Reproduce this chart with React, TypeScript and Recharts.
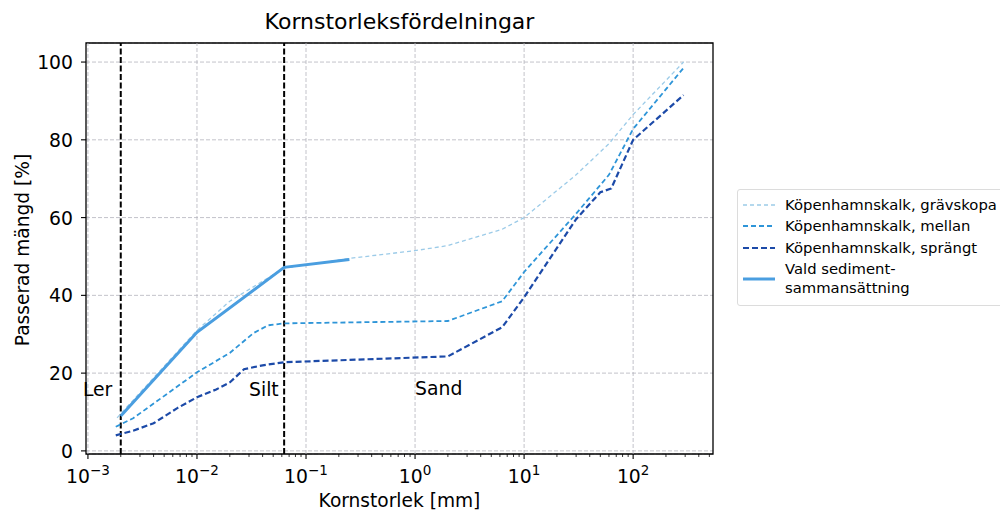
import React from 'react';
import {
  LineChart,
  Line,
  XAxis,
  YAxis,
  CartesianGrid,
  ReferenceLine,
  ReferenceArea,
  ReferenceDot,
  Legend,
} from 'recharts';

// Grain size distributions: x = grain size [mm], y = passing [%]
const gravskopa = [
  { x: 0.00185, y: 8.5 },
  { x: 0.01, y: 31 },
  { x: 0.02, y: 38.5 },
  { x: 0.063, y: 47 },
  { x: 0.25, y: 49.5 },
  { x: 1, y: 51.5 },
  { x: 2, y: 52.8 },
  { x: 6.3, y: 57 },
  { x: 10, y: 60 },
  { x: 30, y: 71 },
  { x: 60, y: 79 },
  { x: 100, y: 86.5 },
  { x: 290, y: 100 },
];

const mellan = [
  { x: 0.0018, y: 6.2 },
  { x: 0.0026, y: 8.4 },
  { x: 0.01, y: 20.2 },
  { x: 0.02, y: 25.2 },
  { x: 0.033, y: 30.3 },
  { x: 0.045, y: 32.3 },
  { x: 0.063, y: 32.8 },
  { x: 2, y: 33.4 },
  { x: 6.3, y: 38.5 },
  { x: 10, y: 46 },
  { x: 30, y: 61 },
  { x: 60, y: 71 },
  { x: 100, y: 82.8 },
  { x: 290, y: 98.5 },
];

const sprangt = [
  { x: 0.0018, y: 4 },
  { x: 0.0026, y: 5.2 },
  { x: 0.004, y: 7.1 },
  { x: 0.0066, y: 11 },
  { x: 0.01, y: 13.8 },
  { x: 0.015, y: 15.8 },
  { x: 0.02, y: 17.6 },
  { x: 0.027, y: 21 },
  { x: 0.04, y: 22 },
  { x: 0.063, y: 22.8 },
  { x: 2, y: 24.3 },
  { x: 6.3, y: 31.8 },
  { x: 10, y: 39.5 },
  { x: 30, y: 59.6 },
  { x: 50, y: 66.5 },
  { x: 63, y: 67.5 },
  { x: 100, y: 80 },
  { x: 290, y: 91.5 },
];

const vald = [
  { x: 0.002, y: 9 },
  { x: 0.01, y: 30.5 },
  { x: 0.063, y: 47.2 },
  { x: 0.25, y: 49.2 },
];

// Class boundaries (clay/silt, silt/sand) and their labels
const boundaries = [0.002, 0.063];
const classLabels = [
  { text: 'Ler', x: 0.001, y: 14, dx: -5 },
  { text: 'Silt', x: 0.03, y: 14, dx: 0 },
  { text: 'Sand', x: 1, y: 14.5, dx: 0 },
];

const xMajor = [1e-3, 1e-2, 1e-1, 1, 10, 100];
const xMinorFactors = [2, 3, 4, 5, 6, 7, 8, 9];
const xTicks: number[] = [];
xMajor.forEach((m) => {
  xTicks.push(m);
  xMinorFactors.forEach((f) => {
    const v = m * f;
    if (v < 540) xTicks.push(v);
  });
});
const yTicks = [0, 20, 40, 60, 80, 100];

const X_DOMAIN: [number, number] = [0.00096, 540];
const Y_DOMAIN: [number, number] = [-0.8, 104.9];

const legendItems = [
  { label: ['Köpenhamnskalk, grävskopa'], color: '#9ccbe8', width: 1.3, dash: '4 3' },
  { label: ['Köpenhamnskalk, mellan'], color: '#2e95d8', width: 1.8, dash: '5 3' },
  { label: ['Köpenhamnskalk, sprängt'], color: '#1c4aa8', width: 2.2, dash: '6 3' },
  { label: ['Vald sediment-', 'sammansättning'], color: '#4a9ee0', width: 3, dash: '' },
];

const FONT = '"DejaVu Sans", Verdana, sans-serif';
const TICK_FONT = 18.8;

const isMajor = (v: number) => {
  const l = Math.log10(v);
  return Math.abs(l - Math.round(l)) < 1e-6;
};

const XTick = (props: any) => {
  const { x, y, payload } = props;
  const v = payload.value as number;
  const major = isMajor(v);
  const exp = Math.round(Math.log10(v));
  const expText = exp < 0 ? `\u2212${-exp}` : `${exp}`;
  return (
    <g>
      <line
        x1={x}
        x2={x}
        y1={y}
        y2={y + (major ? 5 : 3)}
        stroke="#000"
        strokeWidth={major ? 1.1 : 0.8}
      />
      {major && (
        <text x={x} y={y + 29} textAnchor="middle" fontSize={TICK_FONT} fill="#000" fontFamily={FONT}>
          <tspan>10</tspan>
          <tspan dy={-8.5} fontSize={13.5}>
            {expText}
          </tspan>
        </text>
      )}
    </g>
  );
};

const YTick = (props: any) => {
  const { x, y, payload } = props;
  return (
    <g>
      <line x1={x - 5} x2={x} y1={y} y2={y} stroke="#000" strokeWidth={1.1} />
      <text x={x - 13} y={y + 7} textAnchor="end" fontSize={TICK_FONT} fill="#000" fontFamily={FONT}>
        {payload.value}
      </text>
    </g>
  );
};

const LegendBox = () => (
  <div
    style={{
      border: '1px solid #dcdcdc',
      borderRadius: 3,
      background: '#fff',
      padding: '4px 0 6px 0',
      fontFamily: FONT,
      fontSize: 14.8,
      color: '#000',
      width: 290,
      boxSizing: 'border-box',
    }}
  >
    {legendItems.map((it, i) => (
      <div key={i} style={{ display: 'flex', alignItems: 'center', height: it.label.length * 18.5 + 3 }}>
        <svg width={47} height={10} style={{ flex: 'none' }}>
          <line
            x1={5}
            x2={37}
            y1={5}
            y2={5}
            stroke={it.color}
            strokeWidth={it.width}
            strokeDasharray={it.dash || undefined}
          />
        </svg>
        <div style={{ lineHeight: '18.5px', whiteSpace: 'nowrap' }}>
          {it.label.map((l, j) => (
            <div key={j}>{l}</div>
          ))}
        </div>
      </div>
    ))}
  </div>
);

export default function App() {
  return (
    <div style={{ position: 'absolute', left: 0, top: 0, width: 1000, height: 510, background: '#fff' }}>
      <LineChart
        width={1000}
        height={510}
        margin={{ top: 43, right: 287, bottom: 0, left: 0 }}
        style={{ fontFamily: FONT }}
      >
        <CartesianGrid
          vertical={false}
          stroke="#b4b4bc"
          strokeDasharray="4 2"
          strokeWidth={0.8}
        />
        {xMajor.map((v) => (
          <ReferenceLine
            key={`g${v}`}
            x={v}
            stroke="#b4b4bc"
            strokeDasharray="4 2"
            strokeWidth={0.8}
          />
        ))}
        <XAxis
          type="number"
          dataKey="x"
          scale="log"
          domain={X_DOMAIN}
          allowDataOverflow
          ticks={xTicks}
          interval={0}
          tick={<XTick />}
          tickLine={false}
          tickSize={0}
          tickMargin={0}
          axisLine={false}
          height={56}
        />
        <YAxis
          type="number"
          dataKey="y"
          domain={Y_DOMAIN}
          allowDataOverflow
          ticks={yTicks}
          interval={0}
          tick={<YTick />}
          tickLine={false}
          tickSize={0}
          tickMargin={0}
          axisLine={false}
          width={86}
        />
        {boundaries.map((b) => (
          <ReferenceLine key={`b${b}`} x={b} stroke="#000" strokeWidth={2} strokeDasharray="6 2.5" />
        ))}
        <Line
          data={gravskopa}
          dataKey="y"
          type="linear"
          dot={false}
          stroke="#9ccbe8"
          strokeWidth={1.3}
          strokeDasharray="4 3"
          isAnimationActive={false}
          legendType="none"
        />
        <Line
          data={mellan}
          dataKey="y"
          type="linear"
          dot={false}
          stroke="#2e95d8"
          strokeWidth={1.8}
          strokeDasharray="5 3"
          isAnimationActive={false}
          legendType="none"
        />
        <Line
          data={sprangt}
          dataKey="y"
          type="linear"
          dot={false}
          stroke="#1c4aa8"
          strokeWidth={2.2}
          strokeDasharray="6 3"
          isAnimationActive={false}
          legendType="none"
        />
        <Line
          data={vald}
          dataKey="y"
          type="linear"
          dot={false}
          stroke="#4a9ee0"
          strokeWidth={3}
          isAnimationActive={false}
          legendType="none"
        />
        {classLabels.map((c) => (
          <ReferenceDot
            key={c.text}
            x={c.x}
            y={c.y}
            r={0}
            ifOverflow="visible"
            shape={(p: any) => (
              <text x={p.cx + c.dx} y={p.cy} fontSize={TICK_FONT} fill="#000" fontFamily={FONT}>
                {c.text}
              </text>
            )}
          />
        ))}
        <ReferenceArea
          x1={X_DOMAIN[0]}
          x2={X_DOMAIN[1]}
          y1={Y_DOMAIN[0]}
          y2={Y_DOMAIN[1]}
          fill="none"
          fillOpacity={0}
          stroke="#000"
          strokeWidth={1.3}
          ifOverflow="visible"
        />
        <Legend
          layout="vertical"
          align="center"
          verticalAlign="middle"
          content={() => <LegendBox />}
          wrapperStyle={{ position: 'absolute', left: 737, top: 189, width: 290 }}
        />
      </LineChart>
      <div
        style={{
          position: 'absolute',
          left: 86,
          width: 627,
          top: 9,
          textAlign: 'center',
          fontFamily: FONT,
          fontSize: 22,
          color: '#000',
        }}
      >
        Kornstorleksfördelningar
      </div>
      <div
        style={{
          position: 'absolute',
          left: 86,
          width: 627,
          top: 490,
          textAlign: 'center',
          fontFamily: FONT,
          fontSize: 18.6,
          color: '#000',
        }}
      >
        Kornstorlek [mm]
      </div>
      <div
        style={{
          position: 'absolute',
          left: 22,
          top: 250,
          transform: 'translate(-50%, -50%) rotate(-90deg)',
          whiteSpace: 'nowrap',
          fontFamily: FONT,
          fontSize: 18.6,
          color: '#000',
        }}
      >
        Passerad mängd [%]
      </div>
    </div>
  );
}
